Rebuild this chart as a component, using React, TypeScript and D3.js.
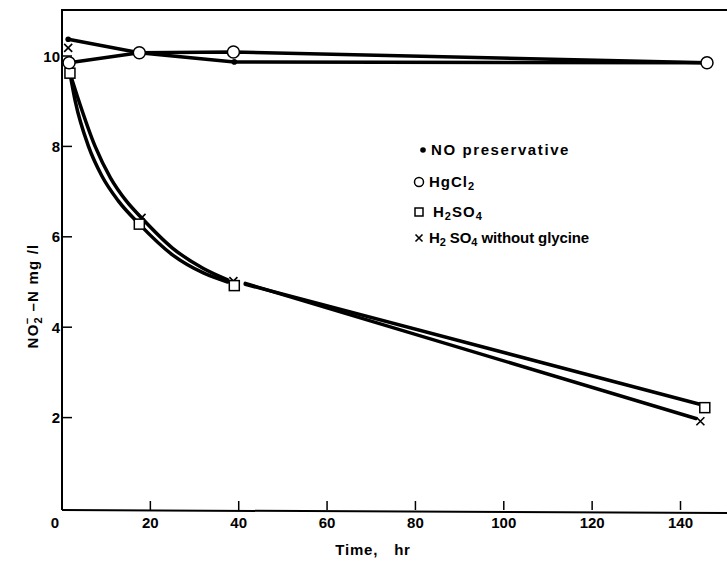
import * as d3 from "d3";

// marker positions (hr, mg/l)
const noPreservative = [
  { t: 1.4, v: 10.37 },
  { t: 39, v: 9.87 },
];
const noPreservativeLine = [
  { t: 1.4, v: 10.37 },
  { t: 17.5, v: 10.07 },
  { t: 39, v: 9.87 },
  { t: 146, v: 9.85 },
];
const hgcl2 = [
  { t: 1.6, v: 9.85 },
  { t: 17.5, v: 10.07 },
  { t: 38.8, v: 10.09 },
  { t: 146, v: 9.85 },
];
const h2so4 = [
  { t: 1.8, v: 9.62 },
  { t: 17.5, v: 6.28 },
  { t: 39, v: 4.92 },
  { t: 145.5, v: 2.22 },
];
const h2so4NoGly = [
  { t: 1.4, v: 10.18 },
  { t: 18, v: 6.42 },
  { t: 38.8, v: 5.02 },
  { t: 144.5, v: 1.92 },
];

// hand-drawn curves
const h2so4Curve = [
  { t: 1.8, v: 9.62 }, { t: 3, v: 9.0 }, { t: 6, v: 8.0 }, { t: 9, v: 7.35 },
  { t: 12.7, v: 6.8 }, { t: 17.5, v: 6.28 }, { t: 25, v: 5.6 }, { t: 32, v: 5.2 },
  { t: 37.5, v: 5.0 },
];
const h2so4NoGlyCurve = [
  { t: 1.8, v: 9.62 }, { t: 3.5, v: 9.1 }, { t: 7.5, v: 8.0 }, { t: 11, v: 7.3 },
  { t: 14.5, v: 6.8 }, { t: 18, v: 6.42 }, { t: 25, v: 5.75 }, { t: 32, v: 5.3 },
  { t: 37.5, v: 5.05 },
];
const h2so4Tail = [{ t: 41.5, v: 4.95 }, { t: 145, v: 2.28 }];
const h2so4NoGlyTail = [{ t: 41.5, v: 4.97 }, { t: 143.5, v: 1.98 }];

const xTicks = [20, 40, 60, 80, 100, 120, 140];
const yTicks = [2, 4, 6, 8, 10];

const FONT = "'Liberation Sans', Arial, sans-serif";

export default function App() {
  const x = d3.scaleLinear().domain([0, 140]).range([62, 680.5]);
  const y = d3.scaleLinear().domain([0, 10]).range([508, 56]);
  const X0 = x(0);
  const Y0 = 510;
  const TOP = 10;

  type P = { t: number; v: number };
  const straight = d3.line<P>().x((d) => x(d.t)).y((d) => y(d.v));
  const smooth = d3.line<P>().x((d) => x(d.t)).y((d) => y(d.v)).curve(d3.curveMonotoneX);

  const lineStyle = { fill: "none", stroke: "#000", strokeWidth: 3.5, strokeLinecap: "round" as const };

  const circle = (cx: number, cy: number, k: string, r = 6) => (
    <circle key={k} cx={cx} cy={cy} r={r} fill="#fff" stroke="#000" strokeWidth={1.5} />
  );
  const square = (cx: number, cy: number, k: string, s = 10) => (
    <rect key={k} x={cx - s / 2} y={cy - s / 2} width={s} height={s} fill="#fff" stroke="#000" strokeWidth={1.5} />
  );
  const cross = (cx: number, cy: number, k: string, h = 4) => (
    <path key={k} d={`M${cx - h},${cy - h}L${cx + h},${cy + h}M${cx + h},${cy - h}L${cx - h},${cy + h}`} stroke="#000" strokeWidth={1.6} />
  );
  const dot = (cx: number, cy: number, k: string) => <circle key={k} cx={cx} cy={cy} r={2.8} fill="#000" />;

  const legendX = 419;
  const textX = 429;

  return (
    <svg width={727} height={563} style={{ position: "absolute", left: 0, top: 0, background: "#fff" }} fontFamily={FONT}>
      {/* frame */}
      <path d={`M${X0},${Y0}V${TOP}H727`} fill="none" stroke="#000" strokeWidth={2} />
      <line x1={X0} x2={727} y1={Y0} y2={Y0 + 3} stroke="#000" strokeWidth={2} />

      <g fontSize={15} fontWeight="bold">
        {xTicks.map((t) => (
          <g key={t}>
            <line x1={x(t)} x2={x(t)} y1={Y0} y2={Y0 - 9} stroke="#000" strokeWidth={1.5} />
            <text x={x(t)} y={528} textAnchor="middle">{t}</text>
          </g>
        ))}
        <text x={55} y={528} textAnchor="middle">0</text>

        {yTicks.map((v) => (
          <g key={v}>
            <line x1={X0} x2={X0 + 10} y1={y(v)} y2={y(v)} stroke="#000" strokeWidth={1.5} />
            <text x={60} y={y(v) + 5.5} textAnchor="end">{v}</text>
          </g>
        ))}

        <text x={373} y={555} textAnchor="middle" letterSpacing={0.8}>
          Time,<tspan dx={16}>hr</tspan>
        </text>

        <text transform="translate(38,296) rotate(-90)" textAnchor="middle" letterSpacing={1.2}>
          NO<tspan fontSize={11} dy={4}>2</tspan>
          <tspan fontSize={11} dx={-8} dy={-11}>−</tspan>
          <tspan dy={7} dx={5}>–N  mg /l</tspan>
        </text>
      </g>

      {/* lines */}
      <path d={straight(noPreservativeLine) ?? ""} {...lineStyle} />
      <path d={straight(hgcl2) ?? ""} {...lineStyle} />
      <path d={smooth(h2so4Curve) ?? ""} {...lineStyle} />
      <path d={smooth(h2so4NoGlyCurve) ?? ""} {...lineStyle} />
      <path d={straight(h2so4Tail) ?? ""} {...lineStyle} />
      <path d={straight(h2so4NoGlyTail) ?? ""} {...lineStyle} />

      {/* markers */}
      {noPreservative.map((d, i) => dot(x(d.t), y(d.v), "d" + i))}
      {h2so4NoGly.map((d, i) => cross(x(d.t), y(d.v), "x" + i))}
      {h2so4.map((d, i) => square(x(d.t), y(d.v), "s" + i))}
      {hgcl2.map((d, i) => circle(x(d.t), y(d.v), "c" + i))}

      {/* legend */}
      <g fontSize={15} fontWeight="bold">
        {dot(legendX + 4, 150, "ld")}
        <text x={textX + 2} y={155} letterSpacing={1.6}>NO  preservative</text>
        {circle(legendX, 182, "lc", 4.5)}
        <text x={textX} y={187} letterSpacing={1}>HgCl<tspan fontSize={11} dy={3}>2</tspan></text>
        {square(legendX, 212, "ls", 8)}
        <text x={textX + 4} y={217} letterSpacing={1}>H<tspan fontSize={11} dy={3}>2</tspan><tspan dy={-3}>SO</tspan><tspan fontSize={11} dy={3}>4</tspan></text>
        {cross(legendX, 238, "lx", 3.5)}
        <text x={textX} y={243} letterSpacing={-0.1}>H<tspan fontSize={11} dy={3}>2</tspan><tspan dy={-3}> SO</tspan><tspan fontSize={11} dy={3}>4</tspan><tspan dy={-3}>  without  glycine</tspan></text>
      </g>
    </svg>
  );
}
